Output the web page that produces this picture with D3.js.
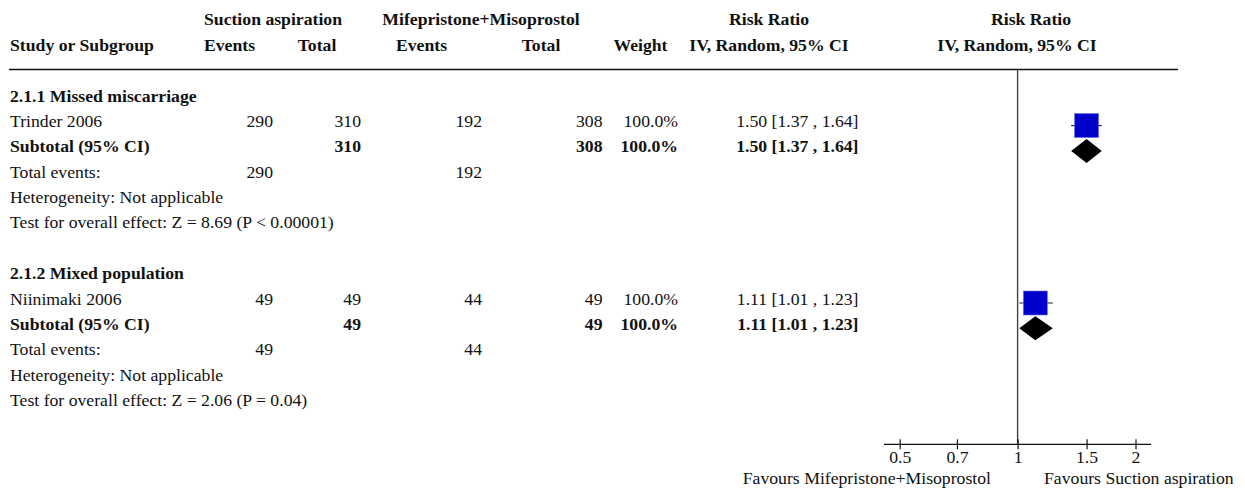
<!DOCTYPE html>
<html>
<head>
<meta charset="utf-8">
<script src="https://cdn.jsdelivr.net/npm/d3@7/dist/d3.min.js"></script>
<style>
  html, body { margin: 0; padding: 0; background: #fff; }
  svg { display: block; }
  text { font-family: "Liberation Serif", "Times New Roman", serif; font-size: 17.7px; fill: #111; }
  .b { font-weight: bold; }
</style>
</head>
<body>
<svg id="chart" width="1245" height="488"></svg>
<script>
// Forest plot data: Suction aspiration vs Mifepristone+Misoprostol
const subgroups = ["2.1.1 Missed miscarriage", "2.1.2 Mixed population"];
const studies = ["Trinder 2006", "Niinimaki 2006"];
const expEvents = [290, 49];
const expTotal = [310, 49];
const ctlEvents = [192, 44];
const ctlTotal = [308, 49];
const weights = [100.0, 100.0];
const rr = [1.50, 1.11];
const rrLow = [1.37, 1.01];
const rrHigh = [1.64, 1.23];
const subRR = [1.50, 1.11];
const subLow = [1.37, 1.01];
const subHigh = [1.64, 1.23];
const overallTest = ["Z = 8.69 (P < 0.00001)", "Z = 2.06 (P = 0.04)"];
const axisTicks = [0.5, 0.7, 1, 1.5, 2];
const favoursLeft = "Favours Mifepristone+Misoprostol";
const favoursRight = "Favours Suction aspiration";

const svg = d3.select("#chart");

// column anchors
const colStudy = 10;
const colExpEv = 273, colExpTot = 361, colCtlEv = 482, colCtlTot = 602.5;
const colWeight = 678, colCI = 858.5;

// log scale for the plot region
const x = d3.scaleLog().domain([0.5, 2]).range([899.7, 1135.5]);
const axisY = 444.3;
const headerLineY = 69.5;

const rowY = i => 101.7 + i * 25.35;

function txt(xp, yp, s, anchor, bold) {
  return svg.append("text")
    .attr("x", xp).attr("y", yp)
    .attr("text-anchor", anchor || "start")
    .attr("class", bold ? "b" : null)
    .text(s);
}

// header
txt(273, 25, "Suction aspiration", "middle", true);
txt(481, 25, "Mifepristone+Misoprostol", "middle", true);
txt(769, 25, "Risk Ratio", "middle", true);
txt(1031, 25, "Risk Ratio", "middle", true);
txt(colStudy, 51, "Study or Subgroup", "start", true);
txt(229.5, 51, "Events", "middle", true);
txt(317, 51, "Total", "middle", true);
txt(421.5, 51, "Events", "middle", true);
txt(541, 51, "Total", "middle", true);
txt(colWeight - 10.5, 51, "Weight", "end", true);
txt(769, 51, "IV, Random, 95% CI", "middle", true);
txt(1017, 51, "IV, Random, 95% CI", "middle", true);

svg.append("line")
  .attr("x1", 9).attr("x2", 1178)
  .attr("y1", headerLineY).attr("y2", headerLineY)
  .attr("stroke", "#111").attr("stroke-width", 1.6);

// null line
svg.append("line")
  .attr("x1", x(1)).attr("x2", x(1))
  .attr("y1", headerLineY).attr("y2", axisY)
  .attr("stroke", "#444").attr("stroke-width", 1.4);

const fmt = v => v.toFixed(2);
const ciText = (m, l, h) => `${fmt(m)} [${fmt(l)} , ${fmt(h)}]`;

subgroups.forEach((g, k) => {
  const base = k * 7;
  txt(colStudy, rowY(base), g, "start", true);

  // study row
  const yS = rowY(base + 1);
  txt(colStudy, yS, studies[k]);
  txt(colExpEv, yS, expEvents[k], "end");
  txt(colExpTot, yS, expTotal[k], "end");
  txt(colCtlEv, yS, ctlEvents[k], "end");
  txt(colCtlTot, yS, ctlTotal[k], "end");
  txt(colWeight, yS, weights[k].toFixed(1) + "%", "end");
  txt(colCI, yS, ciText(rr[k], rrLow[k], rrHigh[k]), "end");

  const cy = yS - 1.5;
  svg.append("line")
    .attr("x1", x(rrLow[k])).attr("x2", x(rrHigh[k]))
    .attr("y1", cy).attr("y2", cy)
    .attr("stroke", "#222").attr("stroke-width", 1.2);
  const side = 24 * Math.sqrt(weights[k] / 100);
  svg.append("rect")
    .attr("x", x(rr[k]) - side / 2).attr("y", cy - side / 2)
    .attr("width", side).attr("height", side)
    .attr("fill", "#0000cc").attr("stroke", "#6f6fe8").attr("stroke-width", 0.6);

  // subtotal row
  const yT = rowY(base + 2);
  txt(colStudy, yT, "Subtotal (95% CI)", "start", true);
  txt(colExpTot, yT, expTotal[k], "end", true);
  txt(colCtlTot, yT, ctlTotal[k], "end", true);
  txt(colWeight, yT, weights[k].toFixed(1) + "%", "end", true);
  txt(colCI, yT, ciText(subRR[k], subLow[k], subHigh[k]), "end", true);

  const dy = yT - 1.5;
  const dh = 12;
  svg.append("path")
    .attr("d", `M${x(subLow[k])},${dy} L${x(subRR[k])},${dy - dh} L${x(subHigh[k])},${dy} L${x(subRR[k])},${dy + dh} Z`)
    .attr("fill", "#000");

  const yE = rowY(base + 3);
  txt(colStudy, yE, "Total events:");
  txt(colExpEv, yE, expEvents[k], "end");
  txt(colCtlEv, yE, ctlEvents[k], "end");

  txt(colStudy, rowY(base + 4), "Heterogeneity: Not applicable");
  txt(colStudy, rowY(base + 5), "Test for overall effect: " + overallTest[k]);
});

// axis
const axis = d3.axisBottom(x)
  .tickValues(axisTicks)
  .tickFormat(d => String(d))
  .tickSize(5)
  .tickSizeOuter(0);

const gAxis = svg.append("g")
  .attr("transform", `translate(0,${axisY})`)
  .call(axis);
gAxis.select(".domain").remove();
gAxis.selectAll(".tick line")
  .attr("y1", -5).attr("y2", 5)
  .attr("stroke", "#111").attr("stroke-width", 1.2);
gAxis.selectAll(".tick text")
  .attr("y", 19).attr("dy", 0)
  .attr("font-family", "Liberation Serif, Times New Roman, serif")
  .attr("font-size", 17.7)
  .attr("fill", "#111");
gAxis.append("line")
  .attr("x1", 884).attr("x2", 1151)
  .attr("y1", 0).attr("y2", 0)
  .attr("stroke", "#111").attr("stroke-width", 1.2);

txt(991, 483.5, favoursLeft, "end");
txt(1044, 483.5, favoursRight, "start");
</script>
</body>
</html>
